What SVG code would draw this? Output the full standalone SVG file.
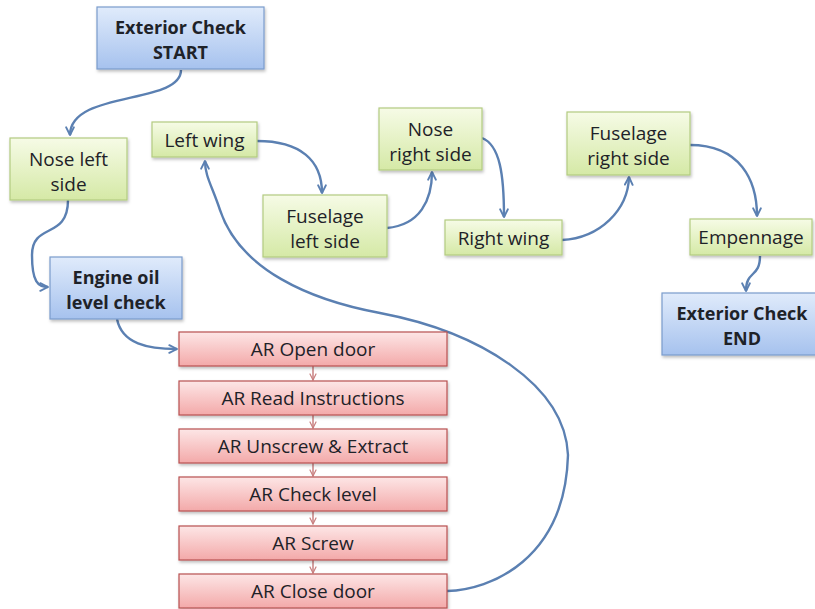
<svg xmlns="http://www.w3.org/2000/svg" width="815" height="609" viewBox="0 0 815 609">
  <defs>
    <linearGradient id="gGreen" x1="0" y1="0" x2="0" y2="1">
      <stop offset="0" stop-color="#f6fbe6"/>
      <stop offset="1" stop-color="#d5e9a6"/>
    </linearGradient>
    <linearGradient id="gBlue" x1="0" y1="0" x2="0" y2="1">
      <stop offset="0" stop-color="#e0ebfb"/>
      <stop offset="1" stop-color="#a6c2ee"/>
    </linearGradient>
    <linearGradient id="gRed" x1="0" y1="0" x2="0" y2="1">
      <stop offset="0" stop-color="#fde6e6"/>
      <stop offset="1" stop-color="#f3a9a9"/>
    </linearGradient>
    <filter id="shadow" x="-10%" y="-10%" width="130%" height="140%">
      <feDropShadow dx="1" dy="2" stdDeviation="1.5" flood-color="#000" flood-opacity="0.25"/>
    </filter>
    <marker id="arrBlue" viewBox="0 0 10 10" refX="9" refY="5" markerWidth="4" markerHeight="4" orient="auto" markerUnits="strokeWidth">
      <path d="M1,1 L9,5 L1,9" fill="none" stroke="#5b80b2" stroke-width="2" stroke-linejoin="round" stroke-linecap="round"/>
    </marker>
    <marker id="arrRed" viewBox="0 0 10 10" refX="9" refY="5" markerWidth="5" markerHeight="5" orient="auto" markerUnits="strokeWidth">
      <path d="M1,1 L9,5 L1,9" fill="none" stroke="#c98080" stroke-width="1.6" stroke-linecap="round"/>
    </marker>
  </defs>
  <style>
    .green { fill: url(#gGreen); stroke: #b3cb80; stroke-width: 1.2; filter: url(#shadow); }
    .blue { fill: url(#gBlue); stroke: #7b9ccc; stroke-width: 1.2; filter: url(#shadow); }
    .red { fill: url(#gRed); stroke: #b85050; stroke-width: 1.2; filter: url(#shadow); }
    text { font-family: "Open Sans", "Liberation Sans", sans-serif; font-size: 19px; fill: #1e2228; text-anchor: middle; }
    .bold { font-weight: bold; font-size: 18px; }
    .conn { fill: none; stroke: #5b80b2; stroke-width: 2.4; marker-end: url(#arrBlue); }
    .step { fill: none; stroke: #c98080; stroke-width: 1.5; marker-end: url(#arrRed); }
  </style>

  <!-- connectors -->
  <g id="connectors">
    <path class="conn" d="M181,70 C181,105 70,90 70,135"/>
    <path class="conn" d="M68,200 C68,240 32,222 32,255 C32,282 38,287 48,287"/>
    <path class="conn" d="M117,319 C122,344 148,349 177,349"/>
    <path class="conn" d="M447,591 C490,590 565,560 568,455 C565,385 480,332 380,313 C310,300 240,270 220,210 C212,186 205,176 205,161"/>
    <path class="conn" d="M257,141 C300,141 322,160 322,193"/>
    <path class="conn" d="M387,228 C420,225 432,200 432,172"/>
    <path class="conn" d="M482,138 C500,145 504,175 504,217"/>
    <path class="conn" d="M562,240 C600,238 628,210 629,177"/>
    <path class="conn" d="M690,145 C740,145 757,180 757,216"/>
    <path class="conn" d="M760,256 C760,278 746,270 746,291"/>
    <path class="step" d="M313,366 L313,380"/>
    <path class="step" d="M313,415 L313,428"/>
    <path class="step" d="M313,463 L313,476"/>
    <path class="step" d="M313,511 L313,524"/>
    <path class="step" d="M313,560 L313,573"/>
  </g>

  <g id="start">
    <rect class="blue" x="97" y="7" width="167" height="62"/>
    <text class="bold" x="180.5" y="34">Exterior Check</text>
    <text class="bold" x="180.5" y="58.5">START</text>
  </g>
  <g id="nose-left">
    <rect class="green" x="10" y="138" width="117" height="62"/>
    <text x="68.5" y="166">Nose left</text>
    <text x="68.5" y="190.5">side</text>
  </g>
  <g id="left-wing">
    <rect class="green" x="152" y="122" width="105" height="35"/>
    <text x="204.5" y="146.5">Left wing</text>
  </g>
  <g id="engine-oil">
    <rect class="blue" x="50" y="257" width="132" height="62"/>
    <text class="bold" x="116" y="284">Engine oil</text>
    <text class="bold" x="116" y="308.5">level check</text>
  </g>
  <g id="fuselage-left">
    <rect class="green" x="263" y="195" width="124" height="62"/>
    <text x="325" y="223">Fuselage</text>
    <text x="325" y="247.5">left side</text>
  </g>
  <g id="nose-right">
    <rect class="green" x="379" y="108" width="103" height="62"/>
    <text x="430.5" y="136">Nose</text>
    <text x="430.5" y="160.5">right side</text>
  </g>
  <g id="right-wing">
    <rect class="green" x="445" y="220" width="117" height="35"/>
    <text x="503.5" y="244.5">Right wing</text>
  </g>
  <g id="fuselage-right">
    <rect class="green" x="567" y="112" width="123" height="63"/>
    <text x="628.5" y="140">Fuselage</text>
    <text x="628.5" y="164.5">right side</text>
  </g>
  <g id="empennage">
    <rect class="green" x="690" y="219" width="122" height="36"/>
    <text x="751" y="244">Empennage</text>
  </g>
  <g id="end">
    <rect class="blue" x="662" y="293" width="156" height="62"/>
    <text class="bold" x="742" y="320">Exterior Check</text>
    <text class="bold" x="742" y="344.5">END</text>
  </g>

  <g id="ar-open-door">
    <rect class="red" x="179" y="332" width="268" height="34"/>
    <text x="313" y="355.5">AR Open door</text>
  </g>
  <g id="ar-read-instructions">
    <rect class="red" x="179" y="381" width="268" height="34"/>
    <text x="313" y="404.5">AR Read Instructions</text>
  </g>
  <g id="ar-unscrew-extract">
    <rect class="red" x="179" y="429" width="268" height="34"/>
    <text x="313" y="452.5">AR Unscrew &amp; Extract</text>
  </g>
  <g id="ar-check-level">
    <rect class="red" x="179" y="477" width="268" height="34"/>
    <text x="313" y="500.5">AR Check level</text>
  </g>
  <g id="ar-screw">
    <rect class="red" x="179" y="526" width="268" height="34"/>
    <text x="313" y="549.5">AR Screw</text>
  </g>
  <g id="ar-close-door">
    <rect class="red" x="179" y="574" width="268" height="34"/>
    <text x="313" y="597.5">AR Close door</text>
  </g>
</svg>
